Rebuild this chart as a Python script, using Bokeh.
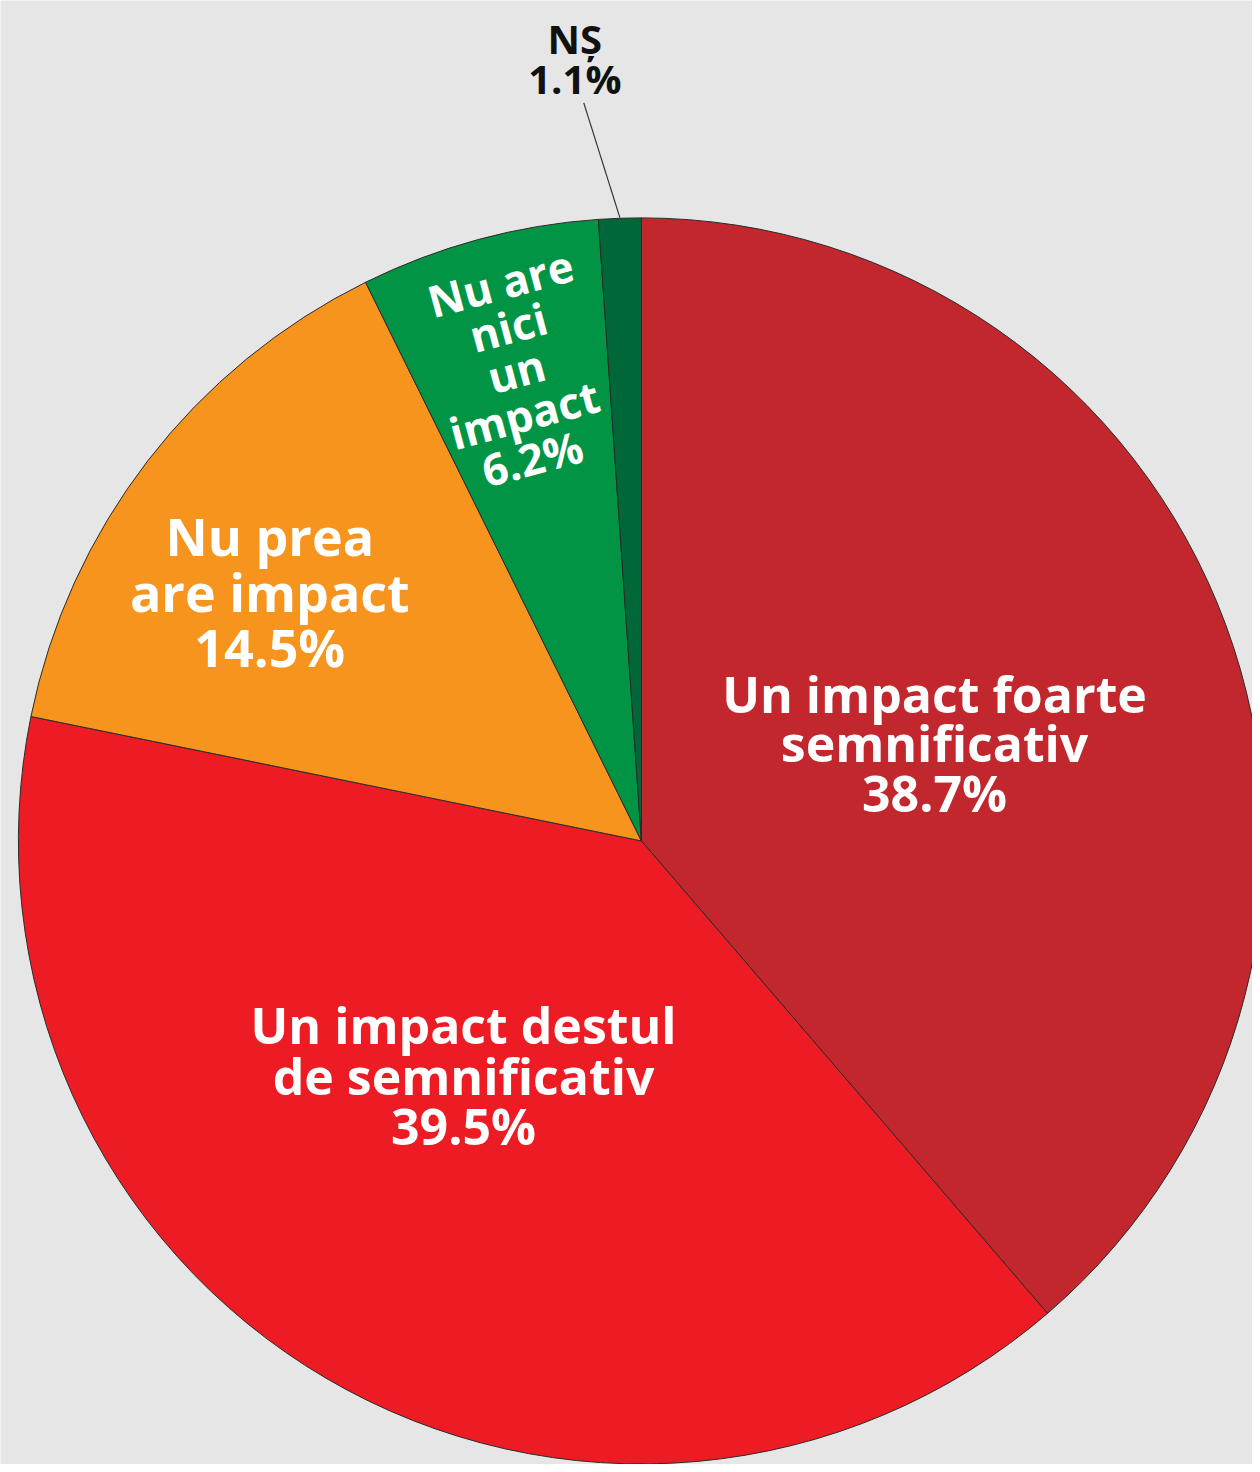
import math
from bokeh.plotting import figure
from bokeh.models import Range1d
from bokeh.core.properties import value
from bokeh.embed import file_html
from bokeh.resources import INLINE

# ---- data ----
categories = ["Un impact foarte semnificativ", "Un impact destul de semnificativ",
              "Nu prea are impact", "Nu are nici un impact", "NȘ"]
shares = [38.7, 39.5, 14.5, 6.2, 1.1]
colors = ["#c1272d", "#ed1c24", "#f7941d", "#009444", "#006838"]
label_lines = [
    ["Un impact foarte", "semnificativ"],
    ["Un impact destul", "de semnificativ"],
    ["Nu prea", "are impact"],
    ["Nu are", "nici", "un", "impact"],
    ["NȘ"],
]

W, H = 1252, 1464          # pixel size of the figure
RW, RH = 1260, 1472        # reference picture coordinate frame
BG = "#e6e6e6"

def fx(sx):
    return sx

def fy(sy):
    return RH - sy

cx, cy, R = fx(645), fy(845), 627

p = figure(width=W, height=H, output_backend="svg", toolbar_location=None,
           x_range=Range1d(0, RW), y_range=Range1d(0, RH), min_border=0,
           background_fill_color=BG, border_fill_color=BG, outline_line_color=None)
p.axis.visible = False
p.grid.visible = False

total = sum(shares)
starts, ends, mids = [], [], []
cum = 0.0
for s in shares:
    a0 = math.pi / 2 - 2 * math.pi * cum / total
    cum += s
    a1 = math.pi / 2 - 2 * math.pi * cum / total
    starts.append(a1)
    ends.append(a0)
    mids.append((a0 + a1) / 2)

p.wedge(x=[cx] * len(shares), y=[cy] * len(shares), radius=R,
        start_angle=starts, end_angle=ends, direction="anticlock",
        fill_color=colors, line_color="#2b2b2b", line_width=1)

font = value("Open Sans")

# label layout: (x of first line, y of first line, x step, y step, font size, angle deg, color)
layout = [
    (940, 697, 0, 50, "50px", 0, "white"),
    (466, 1030, 0, 51, "50px", 0, "white"),
    (271, 538, 0, 56, "52px", 0, "white"),
    (503, 284, 8, 44, "44px", 15, "white"),
    (578, 38, 0, 40, "40px", 0, "#111111"),
]

for i, (sx, sy, ddx, ddy, fs, ang, col) in enumerate(layout):
    lines = label_lines[i] + [f"{shares[i]}%"]
    xs = [fx(sx + k * ddx) for k in range(len(lines))]
    ys = [fy(sy + k * ddy) for k in range(len(lines))]
    p.text(x=xs, y=ys, text=lines, text_align="center", text_baseline="middle",
           text_font=font, text_font_style="bold", text_font_size=fs,
           text_color=col, angle=ang * math.pi / 180)

# leader line for the smallest slice
m = mids[-1]
ex, ey = cx + R * math.cos(m), cy + R * math.sin(m)
p.line(x=[fx(587), ex], y=[fy(103), ey], line_color="#333333", line_width=1.2)

open("out.html", "w").write(file_html(p, INLINE))
